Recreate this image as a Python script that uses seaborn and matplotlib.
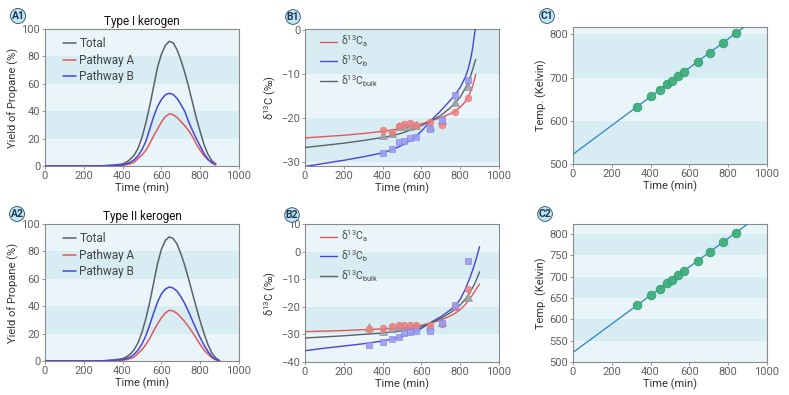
import numpy as np
import pandas as pd
import matplotlib
matplotlib.use("Agg")
import matplotlib.pyplot as plt
import seaborn as sns

sns.set_style("ticks")
plt.rcParams['font.family'] = ['Roboto', 'DejaVu Sans']
plt.rcParams['mathtext.fontset'] = 'custom'
plt.rcParams['mathtext.rm'] = 'Roboto'
plt.rcParams['mathtext.it'] = 'Roboto'

# ---------------- data: A panels (yield curves) ----------------
a1_time = [0, 100, 200, 300, 350, 400, 420, 440, 460, 480, 500, 520, 540, 560, 580, 600, 620, 640,
           660, 680, 700, 720, 740, 760, 780, 800, 820, 840, 860, 880]
a1_total = [0, 0, 0, 0.2, 0.6, 1.5, 2.8, 5, 8, 13, 21, 31.5, 44, 58, 72, 81.5, 88, 91,
            90, 85, 77.5, 68.5, 58, 46.5, 35, 25, 15.5, 8.5, 4, 1.5]
a1_path_a = [0, 0, 0, 0.1, 0.2, 0.5, 0.9, 1.6, 2.8, 5.5, 8, 11.5, 16.5, 22, 27, 32, 36, 38,
             37.5, 35.5, 32.5, 29.5, 26, 21.5, 16, 11.5, 7.5, 4.5, 2.5, 1.5]
a1_path_b = [0, 0, 0, 0.1, 0.4, 0.9, 1.6, 2.8, 4.6, 7.5, 12, 18, 27, 36, 43.5, 48.5, 52, 53,
             52.3, 49.5, 45, 40, 32.5, 26, 20, 14.5, 9, 5, 2.3, 0.8]

a2_time = [0, 100, 200, 300, 350, 400, 420, 440, 460, 480, 500, 520, 540, 560, 580, 600, 620, 640,
           660, 680, 700, 720, 740, 760, 780, 800, 820, 840, 860, 880, 900]
a2_total = [0, 0, 0, 0.2, 0.7, 1.7, 3, 5.2, 8.3, 13.5, 21, 31, 43, 57, 71, 81.5, 88, 90.5,
            89.5, 85.5, 78.5, 70, 60, 49.5, 39, 29, 20, 12, 6, 2.2, 0.3]
a2_path_a = [0, 0, 0, 0.1, 0.2, 0.6, 1, 1.8, 3, 5.5, 8.3, 12, 16.5, 22, 27, 31.5, 35, 37,
             36.6, 34.8, 32, 28.8, 25, 21, 16.5, 12, 8, 5, 2.5, 0.9, 0.1]
a2_path_b = [0, 0, 0, 0.1, 0.5, 1, 1.8, 3, 5, 8, 12.5, 18.5, 26.5, 35, 43, 49, 52.5, 54,
             53.3, 51, 47, 42, 36, 29.5, 23, 17, 11.5, 7, 3.3, 1.2, 0.2]

# ---------------- data: B panels (isotopes) ----------------
b1_line_time = [0, 100, 200, 300, 400, 450, 500, 550, 600, 650, 700, 750, 775, 800, 825,
                840, 855, 865, 875, 880]
b1_line_a = [-24.5, -24.2, -23.9, -23.5, -23.0, -22.7, -22.3, -21.9, -21.3, -20.6, -19.9,
             -19.0, -18.4, -17.5, -16.3, -15.3, -13.8, -12.6, -10.9, -10.0]
b1_line_b = [-31.0, -30.3, -29.6, -28.8, -27.9, -27.2, -26.2, -24.9, -23.0, -20.5, -18.3,
             -15.9, -14.6, -13.0, -10.8, -9.0, -6.3, -3.8, -0.5, 1.0]
b1_line_bulk = [-26.7, -26.2, -25.7, -25.1, -24.4, -24.0, -23.4, -22.6, -21.7, -20.6, -19.4,
                -17.6, -16.5, -15.2, -13.3, -12.0, -10.2, -8.8, -7.3, -6.6]

b1_pt_time = [404, 449, 485, 510, 540, 570, 645, 705, 774, 840]
b1_pt_a = [-22.8, -23.2, -21.7, -21.3, -21.2, -21.5, -20.8, -21.5, -18.6, -15.3]
b1_pt_b = [-28.0, -27.0, -25.5, -25.2, -24.6, -24.2, -22.5, -20.4, -14.8, -11.3]
b1_pt_bulk = [-23.8, -23.3, -21.9, -21.9, -21.7, -21.6, -21.7, -20.4, -16.4, -12.7]

b2_line_time = [0, 100, 200, 300, 400, 450, 500, 550, 600, 650, 700, 750, 775, 800, 825,
                850, 870, 885, 900]
b2_line_a = [-29.0, -28.8, -28.6, -28.3, -28.0, -27.8, -27.6, -27.3, -26.7, -25.8, -24.8,
             -23.3, -22.3, -21.0, -19.3, -17.0, -15.0, -13.3, -11.8]
b2_line_b = [-35.9, -35.0, -34.2, -33.4, -32.4, -31.7, -30.8, -29.6, -27.8, -25.6, -23.6,
             -21.1, -19.5, -17.3, -13.8, -9.5, -5.5, -2.0, 1.8]
b2_line_bulk = [-31.3, -30.9, -30.5, -30.0, -29.5, -29.1, -28.7, -28.1, -27.2, -25.8, -24.2,
                -22.1, -20.9, -19.3, -17.4, -14.8, -12.3, -10.0, -7.3]

b2_pt_time = [330, 404, 449, 485, 510, 540, 570, 645, 705, 774, 840]
b2_pt_a = [-28.0, -27.7, -26.9, -26.6, -26.6, -26.5, -26.6, -26.5, -26.2, -20.0, -13.4]
b2_pt_b = [-33.8, -32.7, -31.8, -30.8, -29.6, -29.0, -28.6, -28.6, -26.0, -19.5, -3.3]
b2_pt_bulk = [-27.4, -28.8, -27.5, -27.1, -26.9, -26.8, -26.9, -26.9, -25.5, -19.8, -16.4]

# ---------------- data: C panels (temperature) ----------------
c_pt_time = [330, 404, 449, 485, 510, 540, 570, 645, 705, 774, 840]
c_pt_temp = [632.6, 657, 672, 684, 692, 703, 713, 737, 757.5, 780.7, 803]
c_line_time = [0, 920]
c_line_temp = [522.5, 829.5]

series_names = ["Total", "Pathway A", "Pathway B"]
iso_names = [r"δ$^{13}$C$_{\mathrm{a}}$", r"δ$^{13}$C$_{\mathrm{b}}$", r"δ$^{13}$C$_{\mathrm{bulk}}$"]
xticks = [0, 200, 400, 600, 800, 1000]

# ---------------- style ----------------
DARK_BAND = "#d7ecf3"
LIGHT_BAND = "#eaf5f9"
C_TOTAL = "#5b6268"
C_RED = "#e0585a"
C_BLUE = "#4646d8"
C_GRAY = "#5b6268"

fig = plt.figure(figsize=(7.89, 3.95), dpi=100)
W, H = 789, 395


def make_ax(x0, y_top, x1, y_bot):
    return fig.add_axes([x0 / W, 1 - y_bot / H, (x1 - x0) / W, (y_bot - y_top) / H])


def style_ax(ax, bands, ylim, yticks, ylabel):
    ax.set_xlim(0, 1000)
    ax.set_ylim(*ylim)
    for lo, hi, c in bands:
        ax.axhspan(lo, hi, color=c, zorder=0, lw=0)
    ax.set_xticks(xticks)
    ax.set_yticks(yticks)
    ax.set_xlabel("Time (min)", fontsize=8, color="#333333", labelpad=1)
    ax.set_ylabel(ylabel, fontsize=8, color="#333333", labelpad=2)
    ax.tick_params(labelsize=8, colors="#888888", labelcolor="#606060", length=2, width=0.6, pad=1.5)
    for s in ax.spines.values():
        s.set_color("#8a8a8a")
        s.set_linewidth(0.8)
    ax.set_facecolor(LIGHT_BAND)


def panel_label(x, y, txt):
    fig.text(x / W, 1 - y / H, txt, ha="center", va="center", fontsize=7.5, fontweight="bold",
             color="#1f3550",
             bbox=dict(boxstyle="circle,pad=0.1", fc="#bfe6f4", ec="#2b4a66", lw=0.6))


def a_panel(ax, t, tot, pa, pb, title):
    df = pd.DataFrame({
        "time": list(t) * 3,
        "yield": list(tot) + list(pa) + list(pb),
        "series": [series_names[0]] * len(t) + [series_names[1]] * len(t) + [series_names[2]] * len(t),
    })
    sns.lineplot(data=df, x="time", y="yield", hue="series", hue_order=series_names,
                 palette=[C_TOTAL, C_RED, C_BLUE], ax=ax, lw=1.1, zorder=3)
    bands = [(0, 20, LIGHT_BAND), (20, 40, DARK_BAND), (40, 60, LIGHT_BAND),
             (60, 80, DARK_BAND), (80, 100, LIGHT_BAND)]
    style_ax(ax, bands, (0, 100), [0, 20, 40, 60, 80, 100], "Yield of Propane (%)")
    ax.set_title(title, fontsize=8.5, fontweight="normal", color="#111111", pad=3)
    leg = ax.legend(loc="upper left", frameon=False, fontsize=8.5, handlelength=1.1,
                    handletextpad=0.3, labelspacing=0.3, borderaxespad=0.3,
                    bbox_to_anchor=(0.05, 1.0))
    for txt in leg.get_texts():
        txt.set_color("#444444")


def b_panel(ax, lt, la, lb, lbulk, pt, pa, pb, pbulk, bands, ylim, yticks):
    n = len(lt)
    dfl = pd.DataFrame({
        "time": list(lt) * 3,
        "d13c": list(la) + list(lb) + list(lbulk),
        "series": [iso_names[0]] * n + [iso_names[1]] * n + [iso_names[2]] * n,
    })
    sns.lineplot(data=dfl, x="time", y="d13c", hue="series", hue_order=iso_names,
                 palette=[C_RED, C_BLUE, C_GRAY], ax=ax, lw=1.0, zorder=3)
    sns.scatterplot(x=pt, y=pbulk, marker="^", s=32, color="#a3a3a8", edgecolor="#8f8f95",
                    linewidth=0.5, alpha=0.9, ax=ax, zorder=4, legend=False)
    sns.scatterplot(x=pt, y=pa, marker="o", s=24, color="#ee7f7f", edgecolor="#e87070",
                    linewidth=0.4, alpha=0.85, ax=ax, zorder=4, legend=False)
    sns.scatterplot(x=pt, y=pb, marker="s", s=24, color="#9d9df2", edgecolor="#8282e6",
                    linewidth=0.5, alpha=0.9, ax=ax, zorder=4, legend=False)
    style_ax(ax, bands, ylim, yticks, r"δ$^{13}$C (‰)")
    leg = ax.legend(loc="upper left", frameon=False, fontsize=7.5, handlelength=1.6,
                    handletextpad=0.4, labelspacing=0.4, borderaxespad=0.3,
                    bbox_to_anchor=(0.04, 1.02))
    for txt in leg.get_texts():
        txt.set_color("#444444")


def c_panel(ax, bands, ylim, yticks):
    sns.lineplot(x=c_line_time, y=c_line_temp, color="#3a8ec2", lw=1.0, ax=ax, zorder=3)
    sns.scatterplot(x=c_pt_time, y=c_pt_temp, s=38, color="#3fb07e", edgecolor="#2f9a6a",
                    linewidth=0.6, alpha=0.95, ax=ax, zorder=4, legend=False)
    style_ax(ax, bands, ylim, yticks, "Temp. (Kelvin)")


# Row 1
axA1 = make_ax(45, 29, 239, 166)
axB1 = make_ax(305, 29, 499, 166)
axC1 = make_ax(573, 27, 767, 164)
# Row 2
axA2 = make_ax(45, 224, 239, 361)
axB2 = make_ax(305, 224, 499, 362)
axC2 = make_ax(573, 224, 767, 362)

a_panel(axA1, a1_time, a1_total, a1_path_a, a1_path_b, "Type I kerogen")
a_panel(axA2, a2_time, a2_total, a2_path_a, a2_path_b, "Type II kerogen")

b_panel(axB1, b1_line_time, b1_line_a, b1_line_b, b1_line_bulk,
        b1_pt_time, b1_pt_a, b1_pt_b, b1_pt_bulk,
        [(-31, -30, LIGHT_BAND), (-30, -20, DARK_BAND), (-20, -10, LIGHT_BAND), (-10, 1, DARK_BAND)],
        (-30.9, 0.3), [-30, -20, -10, 0])
b_panel(axB2, b2_line_time, b2_line_a, b2_line_b, b2_line_bulk,
        b2_pt_time, b2_pt_a, b2_pt_b, b2_pt_bulk,
        [(-40, -30, LIGHT_BAND), (-30, -20, DARK_BAND), (-20, -10, LIGHT_BAND),
         (-10, 0, DARK_BAND), (0, 10, LIGHT_BAND)],
        (-40, 10), [-40, -30, -20, -10, 0, 10])

c_panel(axC1, [(500, 600, DARK_BAND), (600, 700, LIGHT_BAND), (700, 800, DARK_BAND),
               (800, 830, LIGHT_BAND)], (500, 817), [500, 600, 700, 800])
c_panel(axC2, [(500, 550, LIGHT_BAND), (550, 600, DARK_BAND), (600, 650, LIGHT_BAND),
               (650, 700, DARK_BAND), (700, 750, LIGHT_BAND), (750, 800, DARK_BAND),
               (800, 830, LIGHT_BAND)], (500, 823), [500, 550, 600, 650, 700, 750, 800])

panel_label(18, 16, "A1")
panel_label(293, 17, "B1")
panel_label(547, 16, "C1")
panel_label(17, 214, "A2")
panel_label(292, 215, "B2")
panel_label(545, 214, "C2")

fig.savefig("out.png", dpi=100, facecolor="white")
